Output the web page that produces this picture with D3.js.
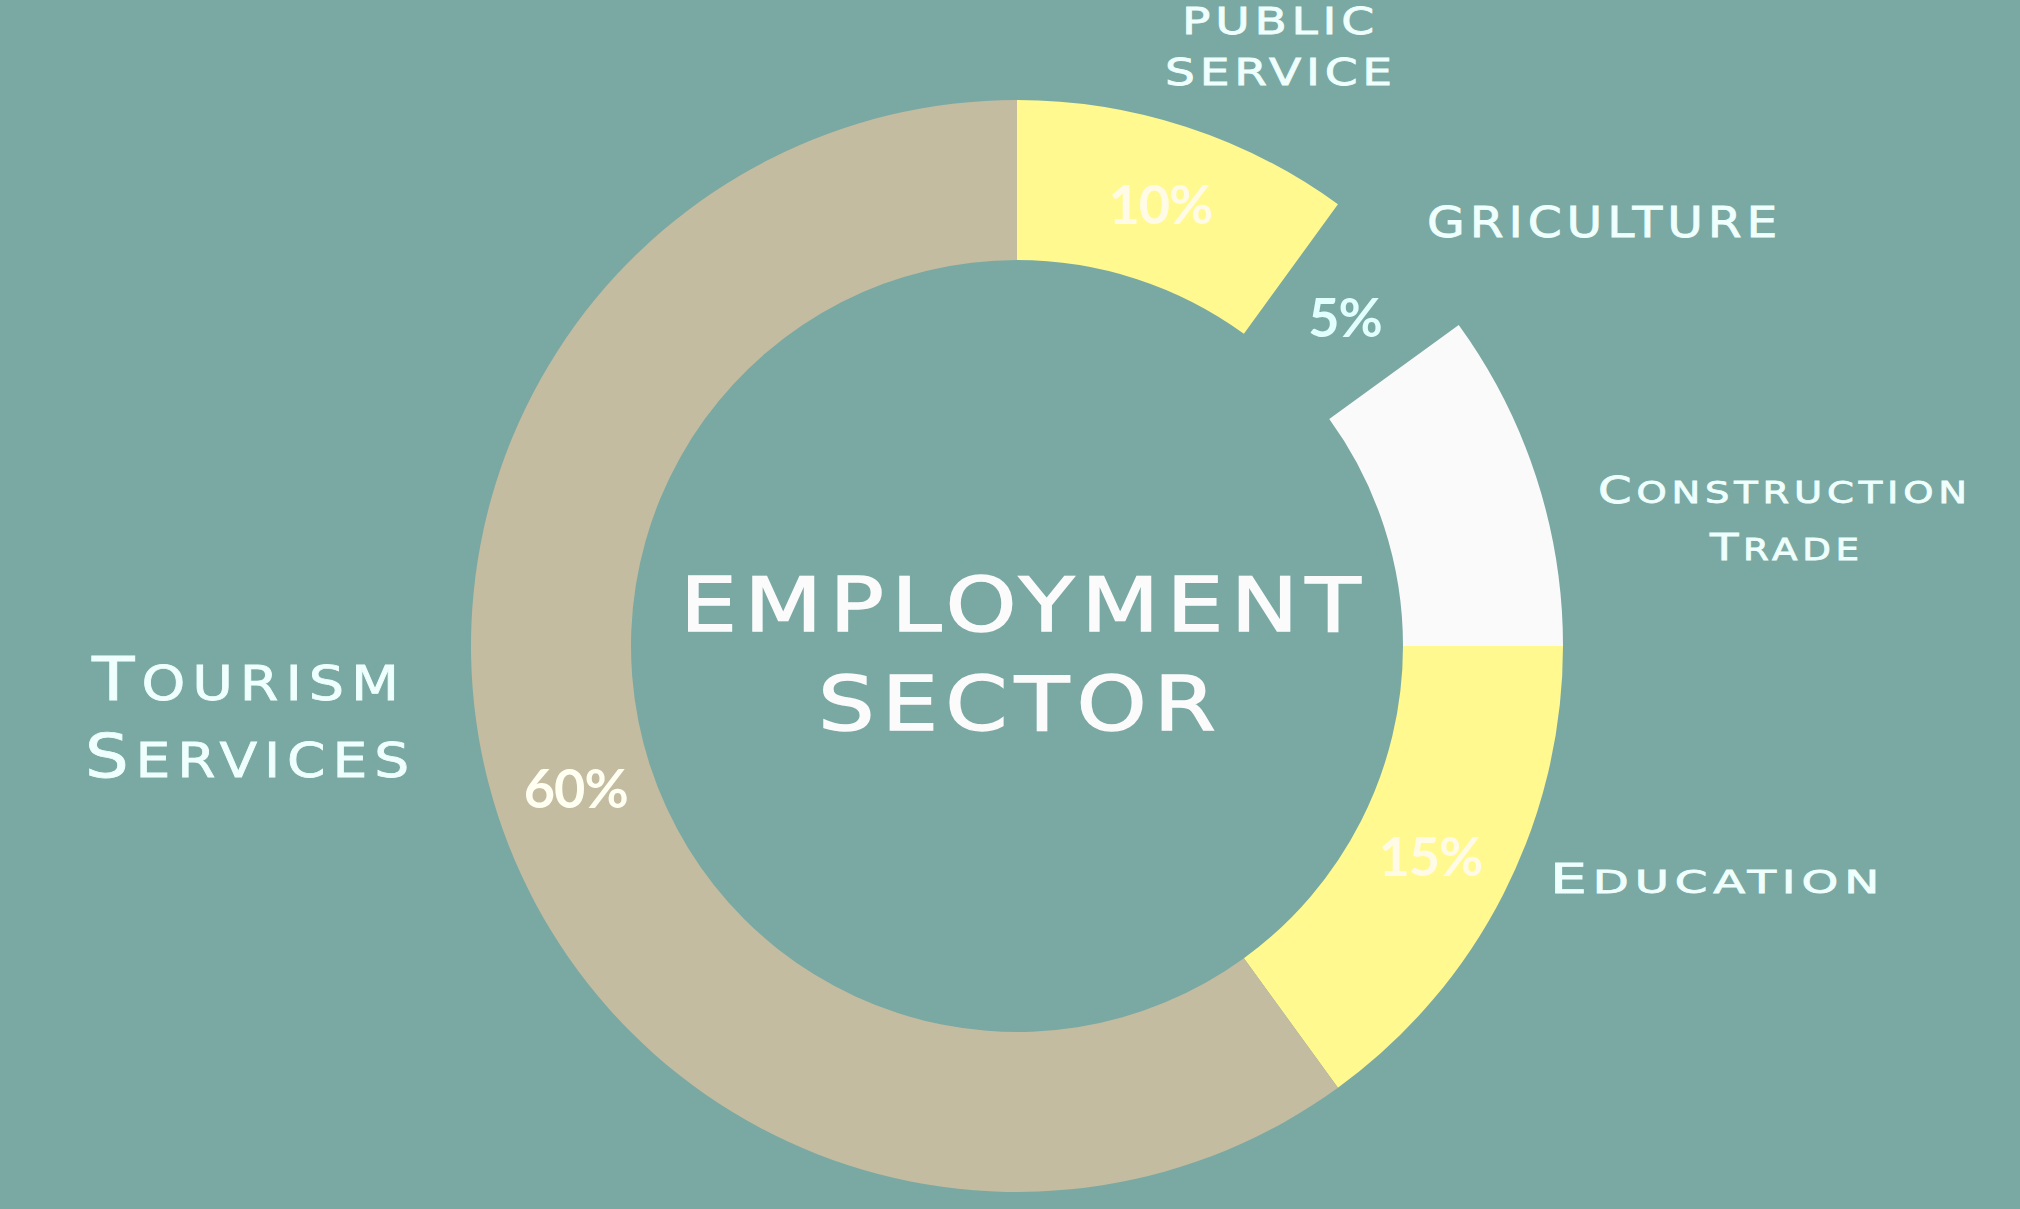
<!DOCTYPE html>
<html>
<head>
<meta charset="utf-8">
<script src="https://cdn.jsdelivr.net/npm/d3@7"></script>
<style>
  html, body { margin: 0; padding: 0; background: #7aa9a3; overflow: hidden; }
  svg { display: block; }
</style>
</head>
<body>
<svg id="drawing_region"></svg>
<script>
// data
const sectors = ['Public Service', 'Agriculture', 'Construction Trade', 'Education', 'Tourism Services'];
const shares = [10, 5, 10, 15, 60];
const sliceColors = ['#fff98f', 'none', '#fafafa', '#fff98f', '#c4bca0'];
const pctColors = ['#fffbe6', '#e0fffd', null, '#fffbe6', '#fffff2'];

// label lines as they appear in the picture (first letter drawn larger when flagged)
const labelLines = [
    ['PUBLIC', 'SERVICE'],
    ['GRICULTURE'],
    ['CONSTRUCTION', 'TRADE'],
    ['EDUCATION'],
    ['TOURISM', 'SERVICES']
];
const bigInitial = [false, false, true, true, true];

const config = {
    width: 2020,
    height: 1209,
    cx: 1017,
    cy: 646,
    outer: 546,
    inner: 386,
    bg: '#7aa9a3'
};

// label placement: x = left edge, y = baseline, w = visible text length
const labelLayout = [
    { size: 38, lines: [{x: 1182, y: 34, w: 193}, {x: 1165, y: 85, w: 228}] },
    { size: 42, lines: [{x: 1427, y: 237, w: 351}] },
    { size: 38, lines: [{x: 1598, y: 503, w: 370}, {x: 1710, y: 560, w: 150}] },
    { size: 40, lines: [{x: 1550, y: 893, w: 331}] },
    { size: 60, lines: [{x: 92, y: 700, w: 308}, {x: 85, y: 777, w: 325}] }
];

const svg = d3.select('#drawing_region')
    .attr('width', config.width)
    .attr('height', config.height);

svg.append('rect')
    .attr('width', config.width)
    .attr('height', config.height)
    .attr('fill', config.bg);

const data = sectors.map((s, i) => ({ sector: s, value: shares[i], i: i }));

const pie = d3.pie()
    .sort(null)
    .value(d => d.value);

const arc = d3.arc()
    .innerRadius(config.inner)
    .outerRadius(config.outer);

const labelArc = d3.arc()
    .innerRadius(config.inner - 2)
    .outerRadius(config.outer - 2);

const chart = svg.append('g')
    .attr('transform', `translate(${config.cx}, ${config.cy})`);

const arcs = pie(data);

chart.selectAll('path')
    .data(arcs)
    .join('path')
    .attr('d', arc)
    .attr('fill', d => sliceColors[d.data.i]);

chart.selectAll('text.pct')
    .data(arcs.filter(d => pctColors[d.data.i]))
    .join('text')
    .attr('class', 'pct')
    .attr('x', d => labelArc.centroid(d)[0])
    .attr('y', d => labelArc.centroid(d)[1] + 19)
    .attr('text-anchor', 'middle')
    .attr('font-family', 'Lato, sans-serif')
    .attr('font-weight', 700)
    .attr('font-size', 54)
    .attr('letter-spacing', -1)
    .attr('fill', d => pctColors[d.data.i])
    .text(d => d.data.value + '%');

// center title
const titleSpacing = 6;
const title = svg.append('g')
    .attr('font-family', '"DejaVu Sans", sans-serif')
    .attr('font-size', 75)
    .attr('letter-spacing', titleSpacing)
    .attr('fill', '#fbfbfb')
    .attr('stroke', '#fbfbfb')
    .attr('stroke-width', 1.4);

title.append('text')
    .attr('x', 680).attr('y', 631)
    .attr('textLength', 682 + titleSpacing)
    .attr('lengthAdjust', 'spacingAndGlyphs')
    .text('EMPLOYMENT');

title.append('text')
    .attr('x', 818).attr('y', 730)
    .attr('textLength', 399 + titleSpacing)
    .attr('lengthAdjust', 'spacingAndGlyphs')
    .text('SECTOR');

// sector labels
const labels = svg.append('g')
    .attr('font-family', '"DejaVu Sans", sans-serif')
    .attr('fill', '#eefffd')
    .attr('stroke', '#eefffd')
    .attr('stroke-width', 0.8);

labelLines.forEach((lines, i) => {
    const lay = labelLayout[i];
    const spacing = lay.size * 0.1;
    lines.forEach((t, j) => {
        const p = lay.lines[j];
        const small = bigInitial[i] ? lay.size * 0.8 : lay.size;
        const txt = labels.append('text')
            .attr('x', p.x)
            .attr('y', p.y)
            .attr('letter-spacing', spacing)
            .attr('textLength', p.w + spacing)
            .attr('lengthAdjust', 'spacingAndGlyphs');
        if (bigInitial[i]) {
            txt.append('tspan').attr('font-size', lay.size).text(t[0]);
            txt.append('tspan').attr('font-size', small).text(t.slice(1));
        } else {
            txt.attr('font-size', lay.size).text(t);
        }
    });
});
</script>
</body>
</html>
